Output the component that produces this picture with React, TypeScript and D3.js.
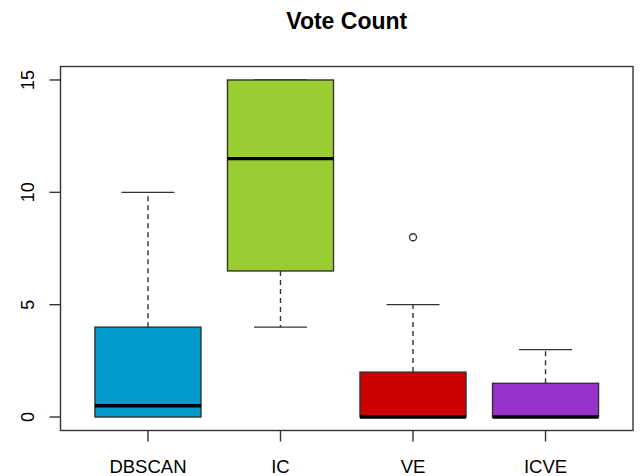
import React from "react";
import * as d3 from "d3";

const categories = ["DBSCAN", "IC", "VE", "ICVE"];
const lowerWhisker = [0, 4, 0, 0];
const q1 = [0, 6.5, 0, 0];
const medians = [0.5, 11.5, 0, 0];
const q3 = [4, 15, 2, 1.5];
const upperWhisker = [10, 15, 5, 3];
const outliers = [[], [], [8], []] as number[][];
const colors = ["#009ACD", "#9ACD32", "#CD0000", "#9932CC"];
const yTicks = [0, 5, 10, 15];
const title = "Vote Count";

const W = 641;
const H = 476;
const left = 60.5;
const right = 633;
const top = 66.5;
const bottom = 430.5;

export default function App() {
  const x = d3.scaleLinear().domain([0.34, 4.66]).range([left, right]);
  const y = d3.scaleLinear().domain([-0.6, 15.6]).range([bottom, top]);
  const bw = x(1.4) - x(1);
  const font = "'Liberation Sans', Arial, sans-serif";
  const stroke = "#333";
  return (
    <svg width={W} height={H} style={{ position: "absolute", left: 0, top: 0 }}>
      <rect x={0} y={0} width={W} height={H} fill="#fff" />
      <text x={(left + right) / 2} y={28.5} textAnchor="middle" fontFamily={font} fontWeight="bold" fontSize={23} fill="#000">
        {title}
      </text>
      {categories.map((c, i) => {
        const cx = x(i + 1);
        return (
          <g key={c}>
            {upperWhisker[i] > q3[i] && (
              <line x1={cx} x2={cx} y1={y(q3[i])} y2={y(upperWhisker[i])} stroke={stroke} strokeWidth={1.4} strokeDasharray="5,4" />
            )}
            <line x1={cx - bw / 2} x2={cx + bw / 2} y1={y(upperWhisker[i])} y2={y(upperWhisker[i])} stroke={stroke} strokeWidth={1.4} />
            {lowerWhisker[i] < q1[i] && (
              <>
                <line x1={cx} x2={cx} y1={y(q1[i])} y2={y(lowerWhisker[i])} stroke={stroke} strokeWidth={1.4} strokeDasharray="5,4" />
                <line x1={cx - bw / 2} x2={cx + bw / 2} y1={y(lowerWhisker[i])} y2={y(lowerWhisker[i])} stroke={stroke} strokeWidth={1.4} />
              </>
            )}
            <rect x={cx - bw} y={y(q3[i])} width={bw * 2} height={y(q1[i]) - y(q3[i])} fill={colors[i]} stroke={stroke} strokeWidth={1.4} />
            <line x1={cx - bw} x2={cx + bw} y1={y(medians[i])} y2={y(medians[i])} stroke="#000" strokeWidth={3.4} />
            {outliers[i].map((o, j) => (
              <circle key={j} cx={cx} cy={y(o)} r={3.5} fill="none" stroke={stroke} strokeWidth={1.3} />
            ))}
            <line x1={cx} x2={cx} y1={bottom} y2={bottom + 11} stroke={stroke} strokeWidth={1.4} />
            <text x={cx} y={473} textAnchor="middle" fontFamily={font} fontSize={18.5} fill="#000">
              {c}
            </text>
          </g>
        );
      })}
      {yTicks.map((t) => (
        <g key={t}>
          <line x1={left - 11} x2={left} y1={y(t)} y2={y(t)} stroke={stroke} strokeWidth={1.4} />
          <text transform={`translate(33.5,${y(t)}) rotate(-90)`} textAnchor="middle" fontFamily={font} fontSize={18} fill="#000">
            {t}
          </text>
        </g>
      ))}
      <rect x={left} y={top} width={right - left} height={bottom - top} fill="none" stroke={stroke} strokeWidth={1.4} />
    </svg>
  );
}
